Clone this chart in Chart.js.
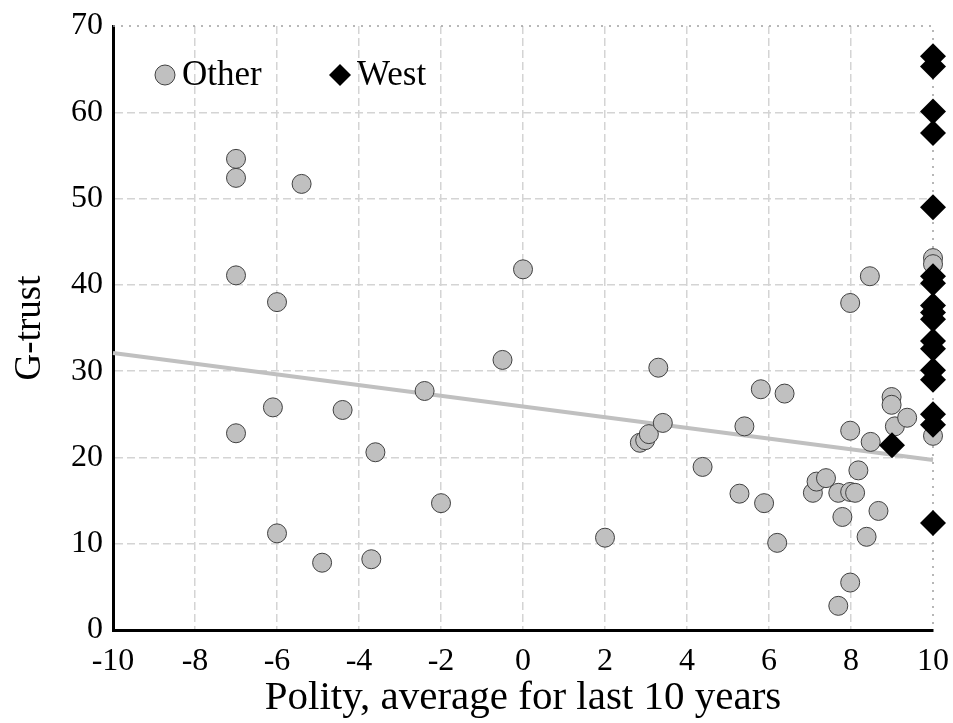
<!DOCTYPE html>
<html>
<head>
<meta charset="utf-8">
<script src="https://cdn.jsdelivr.net/npm/chart.js@4"></script>
<style>
    html, body { margin: 0; padding: 0; background: #fff; }
    #wrap { width: 953px; height: 723px; }
</style>
</head>
<body>
<div id="wrap"><canvas id="chart" width="953" height="723"></canvas></div>
<script>
// Data
const otherX = [-7, -7, -7, -7, -6, -6.1, -6, -5.4, -4.9, -4.4, -3.7, -3.6, -2.4, -2.0, -0.5, 0.0, 2.0,
    2.85, 2.98, 3.07, 3.41, 3.3, 4.38, 5.4, 5.8, 6.38, 5.28, 5.88, 6.2,
    7.07, 7.16, 7.39, 7.69, 7.98, 8.1, 8.18, 7.98, 8.48, 7.98, 8.46,
    8.99, 8.99, 9.07, 9.37, 8.67, 7.79, 8.38, 7.98, 7.69, 10, 10, 10];
const otherY = [54.6, 52.4, 41.1, 22.8, 38.0, 25.8, 11.2, 51.7, 7.8, 25.5, 8.2, 20.6, 27.7, 14.7, 31.3, 41.8, 10.7,
    21.7, 22.0, 22.7, 24.0, 30.4, 18.9, 23.6, 27.9, 27.4, 15.8, 14.7, 10.1,
    15.9, 17.2, 17.6, 15.9, 16.0, 15.9, 18.5, 23.1, 21.8, 37.9, 41.0,
    27.0, 26.1, 23.6, 24.6, 13.8, 13.1, 10.8, 5.5, 2.8, 43.1, 42.4, 22.5];

const westX = [10, 10, 10, 10, 10, 10, 10, 10, 10, 10, 10, 10, 10, 10, 10, 10, 10, 9.0];
const westY = [66.5, 65.3, 60.1, 57.6, 49.0, 41.0, 40.2, 37.6, 36.8, 36.0, 33.5, 32.6, 30.1, 29.0, 25.0, 23.8, 12.4, 21.4];

// fitted line end points
const trendX = [-10, 10];
const trendY = [32.1, 19.7];

const xTicks = [-10, -8, -6, -4, -2, 0, 2, 4, 6, 8, 10];
const yTicks = [0, 10, 20, 30, 40, 50, 60, 70];

const seriesNames = ['Other', 'West'];

const FONT = '"Liberation Serif", "Times New Roman", serif';

function toPoints(xs, ys) {
    return xs.map((x, i) => ({ x: x, y: ys[i] }));
}

// dotted top/right frame under the marks, legend on top
const framePlugin = {
    id: 'frame',
    beforeDatasetsDraw(chart) {
        const ctx = chart.ctx;
        const a = chart.chartArea;
        ctx.save();
        ctx.strokeStyle = '#a0a0a0';
        ctx.lineWidth = 1.5;
        ctx.setLineDash([2, 6]);
        ctx.beginPath();
        ctx.moveTo(a.left, a.top);
        ctx.lineTo(a.right, a.top);
        ctx.lineTo(a.right, a.bottom);
        ctx.stroke();
        ctx.restore();
    },
    afterDraw(chart) {
        const ctx = chart.ctx;
        const a = chart.chartArea;
        ctx.save();
        ctx.font = '35px ' + FONT;
        ctx.textBaseline = 'middle';
        const ly = a.top + 49;
        ctx.beginPath();
        ctx.arc(a.left + 52, ly, 10, 0, Math.PI * 2);
        ctx.fillStyle = '#c0c0c0';
        ctx.fill();
        ctx.strokeStyle = '#404040';
        ctx.lineWidth = 1;
        ctx.stroke();
        ctx.fillStyle = '#000';
        ctx.fillText(seriesNames[0], a.left + 69, ly + 1);

        const dx = a.left + 227;
        ctx.beginPath();
        ctx.moveTo(dx - 11, ly);
        ctx.lineTo(dx, ly - 11);
        ctx.lineTo(dx + 11, ly);
        ctx.lineTo(dx, ly + 11);
        ctx.closePath();
        ctx.fill();
        ctx.fillText(seriesNames[1], a.left + 244, ly + 1);
        ctx.restore();
    }
};

const ctx = document.getElementById('chart').getContext('2d');
new Chart(ctx, {
    type: 'scatter',
    data: {
        datasets: [
            {
                type: 'line',
                label: 'fit',
                data: toPoints(trendX, trendY),
                borderColor: '#c0c0c0',
                borderWidth: 4,
                pointRadius: 0,
                fill: false,
                order: 3
            },
            {
                label: seriesNames[0],
                data: toPoints(otherX, otherY),
                backgroundColor: '#c0c0c0',
                borderColor: '#404040',
                borderWidth: 1,
                pointRadius: 9.5,
                pointStyle: 'circle',
                order: 2
            },
            {
                label: seriesNames[1],
                data: toPoints(westX, westY),
                backgroundColor: '#000',
                borderColor: '#000',
                borderWidth: 0,
                pointRadius: 13,
                pointStyle: 'rectRot',
                order: 1
            }
        ]
    },
    options: {
        responsive: false,
        animation: false,
        clip: false,
        layout: { padding: { top: 26, right: 20, left: 0, bottom: 0 } },
        plugins: {
            legend: { display: false },
            tooltip: { enabled: false }
        },
        scales: {
            x: {
                type: 'linear',
                min: -10,
                max: 10,
                afterBuildTicks: axis => { axis.ticks = xTicks.map(v => ({ value: v })); },
                afterFit: axis => {
                    axis.height = 93;
                    axis.paddingLeft = 0;
                    axis.paddingRight = 0;
                },
                grid: {
                    color: c => (c.tick && (c.tick.value === 10 || c.tick.value === -10)) ? 'rgba(0,0,0,0)' : '#d4d4d4',
                    lineWidth: 1.5,
                    drawTicks: false
                },
                border: { color: '#000', width: 3, dash: [8, 4] },
                ticks: {
                    color: '#000',
                    font: { family: FONT, size: 32 },
                    padding: 12,
                    maxRotation: 0
                },
                title: {
                    display: true,
                    text: 'Polity, average for last 10 years',
                    color: '#000',
                    font: { family: FONT, size: 41 },
                    padding: { top: 0, bottom: 0 }
                }
            },
            y: {
                type: 'linear',
                min: 0,
                max: 70,
                afterBuildTicks: axis => { axis.ticks = yTicks.map(v => ({ value: v })); },
                afterFit: axis => {
                    axis.width = 113;
                    axis.paddingTop = 0;
                    axis.paddingBottom = 0;
                },
                grid: {
                    color: c => (c.tick && (c.tick.value === 70 || c.tick.value === 0)) ? 'rgba(0,0,0,0)' : '#d4d4d4',
                    lineWidth: 1.5,
                    drawTicks: false
                },
                border: { color: '#000', width: 3, dash: [8, 4] },
                ticks: {
                    color: '#000',
                    font: { family: FONT, size: 32 },
                    padding: 10
                },
                title: {
                    display: true,
                    text: 'G-trust',
                    color: '#000',
                    font: { family: FONT, size: 37 },
                    padding: { top: 8, bottom: 8 }
                }
            }
        }
    },
    plugins: [framePlugin]
});
</script>
</body>
</html>
